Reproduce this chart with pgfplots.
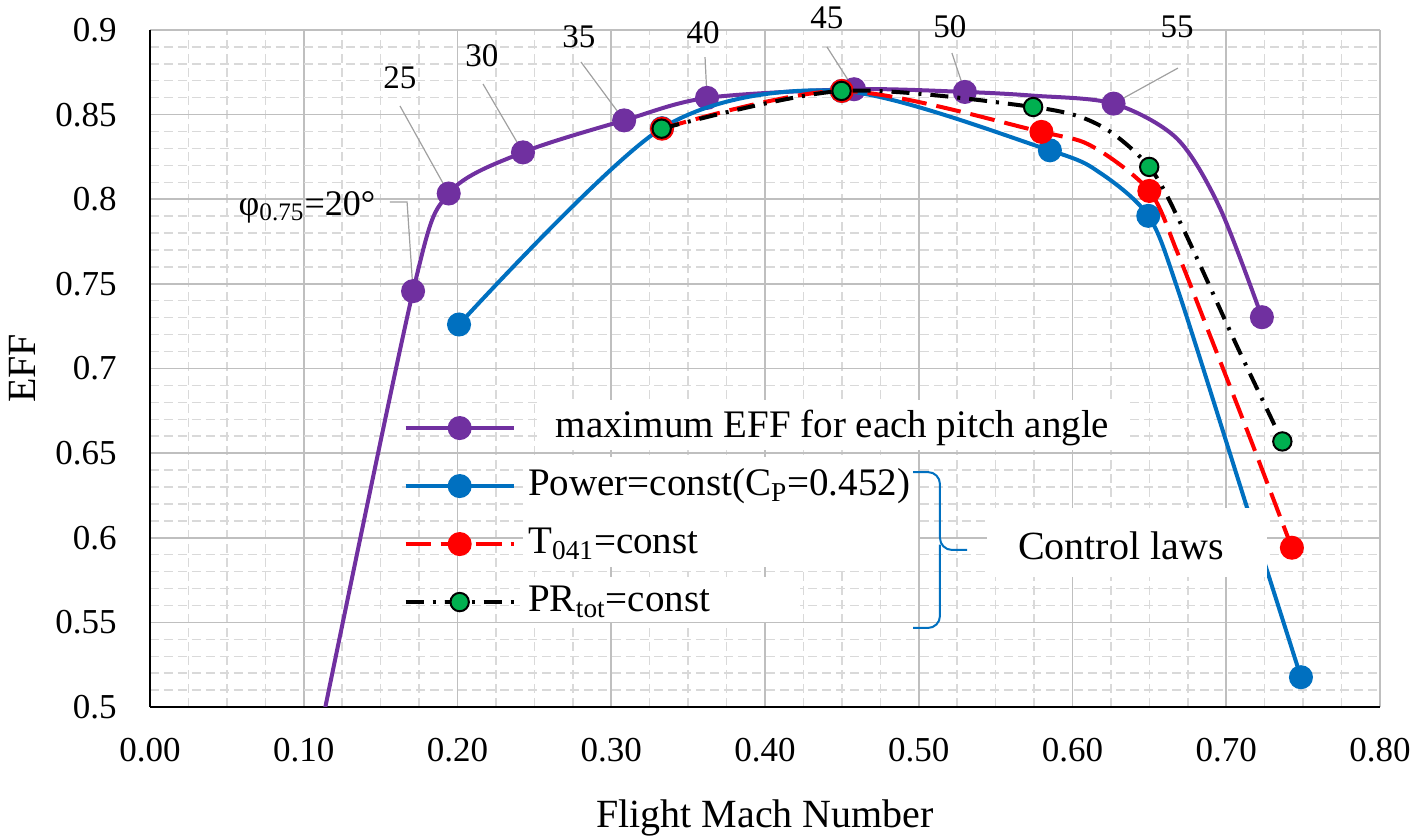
\documentclass[border=0pt]{standalone}
\usepackage{fontspec}
\setmainfont{Liberation Serif}
\usepackage{pgfplots}
\pgfplotsset{compat=1.18}
\definecolor{cpurple}{RGB}{112,48,160}
\definecolor{cblue}{RGB}{0,112,192}
\definecolor{cred}{RGB}{255,0,0}
\definecolor{cgreen}{RGB}{0,176,80}
\definecolor{majgrid}{RGB}{191,191,191}
\definecolor{mingrid}{RGB}{217,217,217}
\definecolor{leader}{RGB}{160,160,160}
\begin{document}
\begin{tikzpicture}
\useasboundingbox (0,0) rectangle (707.5pt,420pt);
\begin{axis}[
  at={(75pt,66.5pt)}, anchor=south west,
  scale only axis, width=615pt, height=338.5pt,
  xmin=0, xmax=0.8, ymin=0.5, ymax=0.9,
  xtick={0,0.1,0.2,0.3,0.4,0.5,0.6,0.7,0.8},
  xticklabels={0.00,0.10,0.20,0.30,0.40,0.50,0.60,0.70,0.80},
  ytick={0.5,0.55,0.6,0.65,0.7,0.75,0.8,0.85,0.9},
  yticklabels={0.5,0.55,0.6,0.65,0.7,0.75,0.8,0.85,0.9},
  minor x tick num=3, minor y tick num=4,
  grid=both,
  major grid style={majgrid, line width=0.8pt},
  minor grid style={mingrid, line width=0.7pt, dash pattern=on 4.5pt off 2.5pt},
  axis x line*=bottom, axis y line*=left,
  axis line style={black, line width=0.85pt, -},
  major tick length=0pt, minor tick length=0pt,
  tick style={draw=none},
  xticklabel style={font=\fontsize{17.5}{20}\selectfont, inner sep=0pt, anchor=center, yshift=-21.5pt},
  yticklabel style={font=\fontsize{17.5}{20}\selectfont, inner sep=0pt, anchor=east, xshift=-16.5pt},
  xlabel={Flight Mach Number},
  xlabel style={at={(axis description cs:0.5,-0.1773)}, anchor=base, font=\fontsize{20}{24}\selectfont},
  ylabel={EFF},
  ylabel style={at={(axis description cs:-0.1041,0.5)}, anchor=center, font=\fontsize{20}{24}\selectfont},
  clip mode=individual,
  legend style={at={(axis cs:0.165,0.6134)}, anchor=west, draw=none, fill=none,
    inner sep=0pt, outer sep=0pt, row sep=0pt, column sep=6.3pt,
    font=\fontsize{19.5}{23}\selectfont,
    nodes={inner sep=0pt, text height=19pt, text depth=10pt}},
  legend cell align=left,
  legend image code/.code={\draw[mark indices={2}] plot coordinates {(0pt,0pt)(27pt,0pt)(54pt,0pt)};},
]
% white areas behind legend text
\fill[white] (axis cs:0.2537,0.6518) rectangle (axis cs:0.6374,0.6814);
\fill[white] (axis cs:0.2426,0.5827) rectangle (axis cs:0.4995,0.6477);
\fill[white] (axis cs:0.2407,0.5502) rectangle (axis cs:0.4228,0.5768);

% leader lines and pitch-angle labels
\draw[leader, line width=0.6pt] (axis cs:0.1561,0.7984) -- (axis cs:0.1672,0.7984) -- (axis cs:0.1711,0.7457);
\node[font=\fontsize{18}{21}\selectfont, inner sep=0pt] at (axis cs:0.1021,0.7954) {φ\textsubscript{0.75}=20°};
\draw[leader, line width=0.6pt] (axis cs:0.1626,0.8551) -- (axis cs:0.1943,0.8034);
\node[font=\fontsize{16.5}{20}\selectfont, inner sep=0pt] at (axis cs:0.1626,0.8716) {25};
\draw[leader, line width=0.6pt] (axis cs:0.2166,0.8681) -- (axis cs:0.2426,0.8277);
\node[font=\fontsize{16.5}{20}\selectfont, inner sep=0pt] at (axis cs:0.2159,0.8846) {30};
\draw[leader, line width=0.6pt] (axis cs:0.2803,0.8811) -- (axis cs:0.3084,0.8466);
\node[font=\fontsize{16.5}{20}\selectfont, inner sep=0pt] at (axis cs:0.2790,0.8959) {35};
\draw[leader, line width=0.6pt] (axis cs:0.3610,0.8840) -- (axis cs:0.3623,0.8599);
\node[font=\fontsize{16.5}{20}\selectfont, inner sep=0pt] at (axis cs:0.3597,0.8982) {40};
\draw[leader, line width=0.6pt] (axis cs:0.4403,0.8900) -- (axis cs:0.4579,0.8650);
\node[font=\fontsize{16.5}{20}\selectfont, inner sep=0pt] at (axis cs:0.4403,0.9071) {45};
\draw[leader, line width=0.6pt] (axis cs:0.5216,0.8864) -- (axis cs:0.5300,0.8634);
\node[font=\fontsize{16.5}{20}\selectfont, inner sep=0pt] at (axis cs:0.5203,0.9018) {50};
\draw[leader, line width=0.6pt] (axis cs:0.6686,0.8775) -- (axis cs:0.6267,0.8565);
\node[font=\fontsize{16.5}{20}\selectfont, inner sep=0pt] at (axis cs:0.6680,0.9018) {55};

% maximum EFF for each pitch angle (unmarked points)
\addplot[cpurple, line width=2pt, smooth, mark=*, mark size=5pt, mark indices={1,2,3,4,5,6,7,9,12},
  mark options={solid, fill=cpurple, draw=cpurple}] coordinates {
  (0.1050,0.4600) (0.1711,0.7457) (0.1943,0.8034) (0.2426,0.8277) (0.3084,0.8466)
  (0.3623,0.8599) (0.4579,0.8650) (0.5300,0.8634) (0.5744,0.8612) (0.6267,0.8565)
  (0.6680,0.8358) (0.6958,0.7950) (0.7232,0.7303)};
\addlegendentry{\hspace*{13.7pt}maximum EFF for each pitch angle}

% Power = const
\addplot[cblue, line width=2pt, smooth, mark=*, mark size=5pt, mark indices={1,2,3,4,6,9},
  mark options={solid, fill=cblue, draw=cblue}] coordinates {
  (0.2010,0.7260) (0.3330,0.8420) (0.4500,0.8640) (0.5853,0.8289) (0.6186,0.8152)
  (0.6493,0.7902) (0.6680,0.7480) (0.7136,0.6176) (0.7486,0.5176)};
\addlegendentry{Power=const(C\textsubscript{P}=0.452)}

% T041 = const
\addplot[cred, line width=2pt, smooth, dash pattern=on 12.5pt off 5pt, mark=*, mark size=5pt,
  mark indices={1,2,3,5,9},
  mark options={solid, fill=cred, draw=cred}] coordinates {
  (0.3330,0.8417) (0.4500,0.8640) (0.5798,0.8398) (0.6135,0.8309) (0.6500,0.8049)
  (0.6680,0.7691) (0.6893,0.7199) (0.7147,0.6608) (0.7427,0.5941)};
\addlegendentry{T\textsubscript{041}=const}

% PRtot = const
\addplot[black, line width=2pt, smooth, dash pattern=on 9pt off 4.5pt on 1.5pt off 4.5pt,
  mark=*, mark size=4.6pt, mark indices={1,2,3,5,8},
  mark options={solid, fill=cgreen, draw=black, line width=1pt}] coordinates {
  (0.3328,0.8417) (0.4498,0.8640) (0.5744,0.8545) (0.6176,0.8437) (0.6499,0.8191)
  (0.6711,0.7843) (0.7069,0.7134) (0.7365,0.6569)};
\addlegendentry{PR\textsubscript{tot}=const}

% control laws box and brace
\fill[white] (axis cs:0.5444,0.5768) rectangle (axis cs:0.7265,0.6176);
\node[font=\fontsize{20}{24}\selectfont, inner sep=0pt, anchor=base] at (axis cs:0.6315,0.5869) {Control laws};
\draw[cblue, line width=1pt, rounded corners=6pt]
  (axis cs:0.4963,0.6388) -- (axis cs:0.5138,0.6388) -- (axis cs:0.5138,0.5928) -- (axis cs:0.5314,0.5928);
\draw[cblue, line width=1pt, rounded corners=6pt]
  (axis cs:0.5138,0.5960) -- (axis cs:0.5138,0.5467) -- (axis cs:0.4963,0.5467);
\end{axis}
\end{tikzpicture}
\end{document}
